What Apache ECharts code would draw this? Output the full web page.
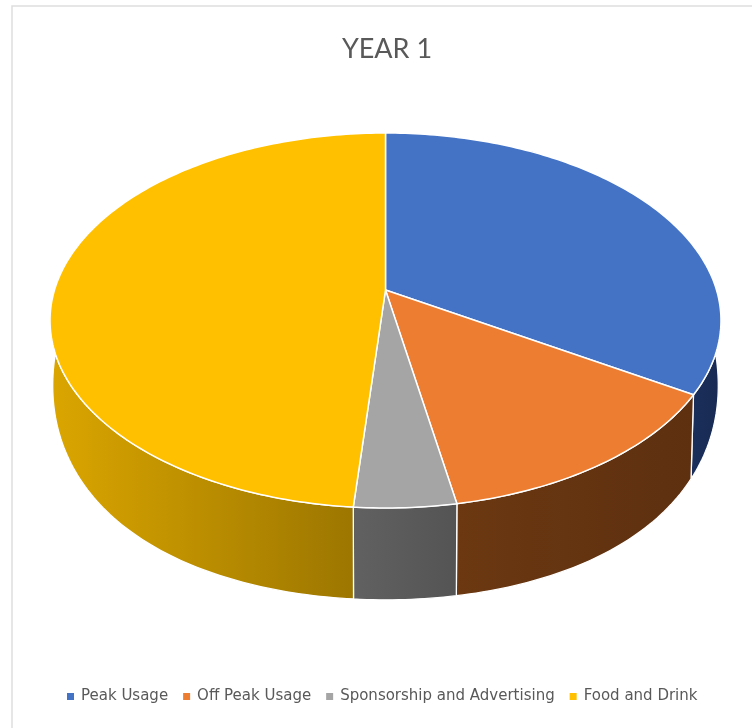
<!DOCTYPE html>
<html><head><meta charset="utf-8">
<style>html,body{margin:0;padding:0;background:#fff}#c{width:752px;height:728px}</style>
<script src="https://cdn.jsdelivr.net/npm/echarts@6/dist/echarts.min.js"></script>
</head><body><div id="c"></div>
<script>
const titleText = 'YEAR 1';
const categories = ['Peak Usage', 'Off Peak Usage', 'Sponsorship and Advertising', 'Food and Drink'];
const shares = [33.8, 13.3, 4.2, 48.7];
const topColors = ['#4472c4', '#ed7d31', '#a5a5a5', '#ffc000'];
const sideLeft = ['#1b3160', '#6b3811', '#616161', '#dba600'];
const sideRight = ['#182a52', '#5e3010', '#545454', '#9c7600'];

const total = shares.reduce((a, b) => a + b, 0);
const CX = 385.5, CY = 290, A = 331, B = 182.5, P = 0.1627;

function topPoint(deg) {
  const t = deg * Math.PI / 180, X = Math.sin(t), Y = Math.cos(t), w = 1 + P * Y;
  return [CX + A * X / w, CY - B * Y / w];
}
function bottomPoint(deg) {
  const p = topPoint(deg), u = p[1] - 505;
  return [CX + (p[0] - CX) * 0.992, p[1] + 92 - 0.0387 * u - 0.000999 * u * u];
}
function arc(fn, a, b) {
  const n = Math.max(2, Math.ceil(Math.abs(b - a))), out = [];
  for (let i = 0; i <= n; i++) out.push(fn(a + (b - a) * i / n));
  return out;
}
function renderSlice(params, api) {
  const i = params.seriesIndex;
  const a = api.value(1) / total * 360, b = a + api.value(0) / total * 360;
  const children = [];
  const sa = Math.max(a, 70), sb = Math.min(b, 290);
  if (sb > sa) {
    children.push({
      type: 'polygon', z2: 1,
      shape: { points: arc(topPoint, sa, sb).concat(arc(bottomPoint, sb, sa)) },
      style: {
        fill: { type: 'linear', x: 0, y: 0, x2: 1, y2: 0,
          colorStops: [{ offset: 0, color: sideLeft[i] }, { offset: 1, color: sideRight[i] }] },
        stroke: '#fff', lineWidth: 1.3, lineJoin: 'round'
      }
    });
  }
  children.push({
    type: 'polygon', z2: 2,
    shape: { points: [[CX, CY]].concat(arc(topPoint, a, b)) },
    style: { fill: topColors[i], stroke: '#fff', lineWidth: 1.5, lineJoin: 'round' }
  });
  return { type: 'group', children };
}

let running = 0;
const series = categories.map((name, i) => {
  const before = running; running += shares[i];
  return {
    type: 'custom', name, coordinateSystem: 'none', silent: true,
    itemStyle: { color: topColors[i] },
    renderItem: renderSlice,
    data: [[shares[i], before]]
  };
});

const chart = echarts.init(document.getElementById('c'), null, { renderer: 'canvas' });
chart.setOption({
  animation: false,
  backgroundColor: '#fff',
  title: {
    text: titleText, left: 382, top: 31, textAlign: 'center',
    textStyle: { fontFamily: 'Lato', fontSize: 27, fontWeight: 'normal', color: '#595959' }
  },
  legend: {
    data: categories.map(name => ({ name, icon: 'rect' })),
    selectedMode: false, left: 67, top: 689, itemWidth: 7, itemHeight: 7, itemGap: 15, padding: 0,
    textStyle: { fontFamily: 'DejaVu Sans', fontSize: 15, color: '#595959', padding: [0, 0, 0, 2] }
  },
  graphic: [{
    type: 'polyline', silent: true,
    shape: { points: [[12, 728], [12, 6], [752, 6]] },
    style: { stroke: '#dedede', lineWidth: 1.5, fill: null }
  }],
  series
});
</script></body></html>
